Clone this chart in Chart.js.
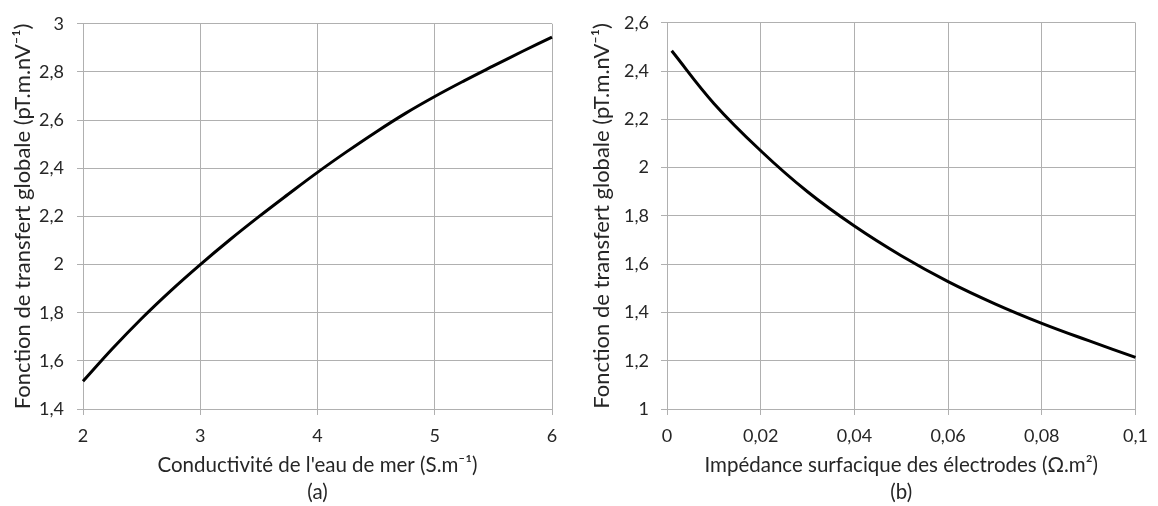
<!DOCTYPE html>
<html><head><meta charset="utf-8">
<script src="https://cdn.jsdelivr.net/npm/chart.js@4"></script>
<style>
html,body{margin:0;padding:0;background:#fff;}
#wrap{display:flex;width:1158px;height:506px;}
canvas{display:block;}
</style>
</head><body>
<div id="wrap"><canvas id="ca" width="579" height="506"></canvas><canvas id="cb" width="579" height="506"></canvas></div>
<script>
// ---- Data ----
const conductivity = [2, 2.25, 2.5, 2.75, 3, 3.25, 3.5, 3.75, 4, 4.25, 4.5, 4.75, 5, 5.25, 5.5, 5.75, 6];
const transferA = [1.515, 1.650, 1.776, 1.892, 2.0, 2.102, 2.199, 2.292, 2.383, 2.469, 2.551, 2.628, 2.698, 2.763, 2.825, 2.886, 2.945];

const impedance = [0.001, 0.01, 0.02, 0.03, 0.04, 0.05, 0.06, 0.07, 0.08, 0.09, 0.1];
const transferB = [2.484, 2.266, 2.070, 1.900, 1.758, 1.635, 1.528, 1.436, 1.355, 1.283, 1.214];

const xTicksA = [2, 3, 4, 5, 6];
const xTickLabelsA = ['2', '3', '4', '5', '6'];
const yTicksA = [1.4, 1.6, 1.8, 2, 2.2, 2.4, 2.6, 2.8, 3];
const yTickLabelsA = ['1,4', '1,6', '1,8', '2', '2,2', '2,4', '2,6', '2,8', '3'];

const xTicksB = [0, 0.02, 0.04, 0.06, 0.08, 0.1];
const xTickLabelsB = ['0', '0,02', '0,04', '0,06', '0,08', '0,1'];
const yTicksB = [1, 1.2, 1.4, 1.6, 1.8, 2, 2.2, 2.4, 2.6];
const yTickLabelsB = ['1', '1,2', '1,4', '1,6', '1,8', '2', '2,2', '2,4', '2,6'];

const yTitle = 'Fonction de transfert globale (pT.m.nV\u207B\u00B9)';
const xTitleA = 'Conductivit\u00E9 de l\'eau de mer (S.m\u207B\u00B9)';
const xTitleB = 'Imp\u00E9dance surfacique des \u00E9lectrodes (\u03A9.m\u00B2)';
const captionA = '(a)';
const captionB = '(b)';

// ---- Styling ----
const FONT = "Lato, 'Noto Sans', 'DejaVu Sans', sans-serif";
const TEXT = '#262626';
const GRID = '#b0b0b0';

function makeChart(id, xs, ys, xT, xL, yT, yL, xTitle, caption, geom) {
  const pts = xs.map((x, i) => ({x: x, y: ys[i]}));
  return new Chart(document.getElementById(id), {
    type: 'line',
    data: {datasets: [{data: pts, borderColor: '#000000', borderWidth: 3, pointRadius: 0,
      fill: false, tension: 0.4, clip: false}]},
    options: {
      responsive: false, animation: false, devicePixelRatio: 1,
      layout: {padding: {left: 0, right: 579 - geom.right, top: geom.top, bottom: 0}},
      plugins: {legend: {display: false}, tooltip: {enabled: false}},
      scales: {
        x: {
          type: 'linear', min: xT[0], max: xT[xT.length - 1],
          afterBuildTicks: s => { s.ticks = xT.map(v => ({value: v})); },
          afterFit: s => { s.height = 506 - geom.bottom; },
          ticks: {callback: (v, i) => xL[i], color: TEXT, font: {family: FONT, size: 18}, padding: 10, maxRotation: 0, autoSkip: false},
          grid: {color: GRID, tickLength: 6, drawTicks: true},
          border: {color: GRID, width: 1},
          title: {display: true, text: [xTitle, caption], color: TEXT,
            font: {family: FONT, size: 20.5, lineHeight: '27px'}, padding: {top: 0, bottom: 0}}
        },
        y: {
          type: 'linear', min: yT[0], max: yT[yT.length - 1],
          afterBuildTicks: s => { s.ticks = yT.map(v => ({value: v})); },
          afterFit: s => { s.width = geom.left; },
          ticks: {callback: (v, i) => yL[i], color: TEXT, font: {family: FONT, size: 18}, padding: geom.tickPad, autoSkip: false},
          grid: {color: GRID, tickLength: 6, drawTicks: true},
          border: {color: GRID, width: 1},
          title: {display: true, text: yTitle, color: TEXT,
            font: {family: FONT, size: 22, lineHeight: 1.2}, padding: {top: 10, bottom: 0}}
        }
      }
    }
  });
}

makeChart('ca', conductivity, transferA, xTicksA, xTickLabelsA, yTicksA, yTickLabelsA, xTitleA, captionA,
  {left: 83, right: 552, top: 16, bottom: 409, tickPad: 13});
makeChart('cb', impedance, transferB, xTicksB, xTickLabelsB, yTicksB, yTickLabelsB, xTitleB, captionB,
  {left: 88, right: 558, top: 16, bottom: 409, tickPad: 12});
</script>
</body></html>
